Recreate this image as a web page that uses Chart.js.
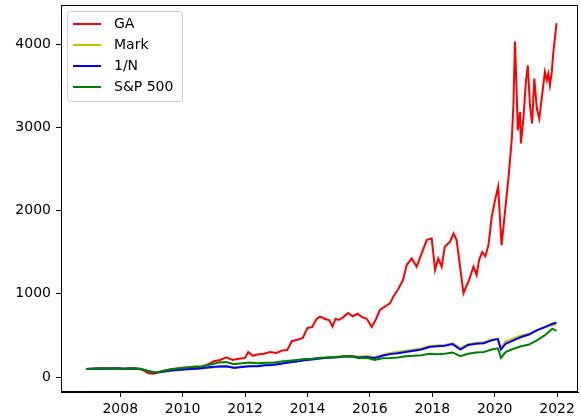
<!DOCTYPE html>
<html>
<head>
<meta charset="utf-8">
<script src="https://cdn.jsdelivr.net/npm/chart.js@4.4.1/dist/chart.umd.min.js"></script>
<style>
  body { margin: 0; background: #fff; }
  canvas { display: block; }
</style>
</head>
<body>
<canvas id="perfChart" width="581" height="416"></canvas>
<script>
// series labels and colours
const seriesNames = ['GA', 'Mark', '1/N', 'S&P 500'];
const seriesColors = ['#ff0000', '#bfbf00', '#0000ff', '#008000'];

// GA portfolio (denser, it moves a lot)
const gaDates = [
    2006.90, 2007.10, 2007.30, 2007.50, 2007.70, 2007.90, 2008.10, 2008.30, 2008.50, 2008.70,
    2008.90, 2009.05, 2009.20, 2009.40, 2009.60, 2009.80, 2010.00, 2010.20, 2010.40, 2010.60,
    2010.80, 2011.00, 2011.20, 2011.40, 2011.60, 2011.80, 2012.00, 2012.10, 2012.25, 2012.40,
    2012.60, 2012.80, 2013.00, 2013.20, 2013.35, 2013.50, 2013.70, 2013.85, 2014.00, 2014.15,
    2014.30, 2014.40, 2014.55, 2014.70, 2014.80, 2014.90, 2015.00, 2015.15, 2015.30, 2015.45,
    2015.60, 2015.75, 2015.90, 2016.06, 2016.20, 2016.32, 2016.50, 2016.65, 2016.75, 2016.90,
    2017.06, 2017.18, 2017.34, 2017.50, 2017.66, 2017.82, 2017.98, 2018.09, 2018.19, 2018.30,
    2018.40, 2018.57, 2018.68, 2018.78, 2018.89, 2019.00, 2019.08, 2019.16, 2019.32, 2019.42,
    2019.50, 2019.60, 2019.70, 2019.80, 2019.90, 2020.00, 2020.11, 2020.22, 2020.33, 2020.44,
    2020.55, 2020.60, 2020.65, 2020.70, 2020.74, 2020.81, 2020.84, 2020.92, 2021.00, 2021.06,
    2021.13, 2021.20, 2021.27, 2021.35, 2021.43, 2021.52, 2021.61, 2021.67, 2021.72, 2021.77,
    2021.83, 2021.88, 2021.93, 2021.98
];
const gaValues = [
    95, 100, 105, 100, 108, 100, 95, 105, 98, 90,
    45, 38, 55, 75, 90, 100, 110, 118, 105, 125,
    150, 190, 205, 236, 205, 220, 230, 300, 255, 270,
    280, 300, 290, 320, 325, 430, 450, 470, 590, 600,
    700, 725, 700, 680, 605, 700, 685, 720, 770, 730,
    760, 720, 700, 600, 700, 805, 850, 888, 965, 1050,
    1165, 1345, 1425, 1325, 1485, 1645, 1665, 1285, 1425, 1325,
    1565, 1625, 1725, 1645, 1325, 1005, 1080, 1145, 1325, 1225,
    1405, 1500, 1450, 1585, 1910, 2105, 2285, 1585, 1985, 2385,
    2870, 3265, 4030, 3470, 2965, 3185, 2805, 3105, 3545, 3745,
    3265, 3045, 3585, 3225, 3105, 3385, 3665, 3565, 3645, 3505,
    3665, 3905, 4070, 4250
];

// benchmarks share one date list
const dates = [
    2006.90, 2007.15, 2007.40, 2007.65, 2007.90, 2008.15, 2008.40, 2008.65, 2008.90, 2009.15,
    2009.40, 2009.65, 2009.90, 2010.15, 2010.40, 2010.65, 2010.90, 2011.15, 2011.40, 2011.65,
    2011.90, 2012.15, 2012.40, 2012.65, 2012.90, 2013.15, 2013.40, 2013.65, 2013.90, 2014.15,
    2014.40, 2014.65, 2014.90, 2015.15, 2015.40, 2015.65, 2015.90, 2016.15, 2016.40, 2016.65,
    2016.90, 2017.15, 2017.40, 2017.65, 2017.90, 2018.15, 2018.40, 2018.65, 2018.90, 2019.15,
    2019.40, 2019.65, 2019.90, 2020.10, 2020.20, 2020.35, 2020.60, 2020.85, 2021.10, 2021.35,
    2021.60, 2021.85, 2021.98
];
const markValues = [
    95, 100, 102, 100, 104, 98, 101, 95, 72, 55,
    62, 72, 80, 88, 95, 102, 112, 120, 126, 118,
    125, 133, 135, 143, 150, 163, 178, 190, 205, 215,
    225, 235, 242, 250, 255, 245, 250, 240, 265, 290,
    300, 315, 328, 342, 370, 378, 385, 405, 350, 395,
    410, 418, 450, 462, 350, 425, 465, 500, 520, 565,
    595, 625, 630
];
const equalValues = [
    95, 100, 102, 100, 104, 98, 102, 95, 70, 50,
    65, 80, 88, 95, 100, 108, 120, 125, 130, 108,
    120, 130, 128, 140, 145, 160, 175, 185, 200, 210,
    222, 230, 235, 245, 250, 235, 240, 225, 255, 275,
    285, 300, 315, 330, 360, 370, 375, 395, 330, 385,
    400, 405, 440, 455, 330, 400, 440, 480, 510, 560,
    600, 640, 655
];
const spValues = [
    95, 100, 105, 102, 106, 100, 104, 98, 70, 55,
    75, 95, 105, 115, 125, 130, 150, 175, 180, 155,
    165, 175, 165, 170, 172, 185, 195, 205, 215, 220,
    230, 235, 240, 245, 248, 225, 230, 205, 225, 228,
    235, 250, 255, 262, 280, 275, 280, 295, 250, 280,
    295, 300, 330, 345, 230, 300, 340, 370, 390, 440,
    500, 580, 555
];

const xTicks = [2008, 2010, 2012, 2014, 2016, 2018, 2020, 2022];
const yTicks = [0, 1000, 2000, 3000, 4000];

const FONT = 'DejaVu Sans';

function toPoints(xs, ys) {
    return xs.map((x, i) => ({ x: x, y: ys[i] }));
}

// matplotlib style box round the plot
const framePlugin = {
    id: 'frame',
    afterDraw(chart) {
        const a = chart.chartArea;
        const ctx = chart.ctx;
        ctx.save();
        ctx.strokeStyle = '#000';
        ctx.lineWidth = 1;
        ctx.strokeRect(Math.round(a.left) + 0.5, Math.round(a.top) + 0.5,
            Math.round(a.right - a.left) - 1, Math.round(a.bottom - a.top) - 1);
        ctx.restore();
    }
};

// legend drawn inside the axes, upper left
const insideLegend = {
    id: 'insideLegend',
    afterDraw(chart) {
        const ctx = chart.ctx;
        const a = chart.chartArea;
        const bx = a.left + 6, by = a.top + 6, bw = 115, bh = 90;
        ctx.save();
        ctx.beginPath();
        ctx.roundRect(bx + 0.5, by + 0.5, bw, bh, 3);
        ctx.fillStyle = 'rgba(255,255,255,0.8)';
        ctx.fill();
        ctx.strokeStyle = '#cccccc';
        ctx.lineWidth = 1;
        ctx.stroke();
        ctx.font = '14px ' + FONT;
        ctx.textBaseline = 'middle';
        chart.data.datasets.forEach((ds, i) => {
            const ly = by + 13 + i * 21;
            ctx.strokeStyle = ds.borderColor;
            ctx.lineWidth = 2;
            ctx.beginPath();
            ctx.moveTo(bx + 6, ly);
            ctx.lineTo(bx + 34, ly);
            ctx.stroke();
            ctx.fillStyle = '#000';
            ctx.fillText(ds.label, bx + 47, ly);
        });
        ctx.restore();
    }
};

const ctx = document.getElementById('perfChart').getContext('2d');

new Chart(ctx, {
    type: 'line',
    data: {
        datasets: [
            { label: seriesNames[0], data: toPoints(gaDates, gaValues), borderColor: seriesColors[0], order: 3 },
            { label: seriesNames[1], data: toPoints(dates, markValues), borderColor: seriesColors[1], order: 2 },
            { label: seriesNames[2], data: toPoints(dates, equalValues), borderColor: seriesColors[2], order: 1 },
            { label: seriesNames[3], data: toPoints(dates, spValues), borderColor: seriesColors[3], order: 0 }
        ]
    },
    options: {
        responsive: false,
        animation: false,
        devicePixelRatio: 1,
        layout: { padding: { top: 5, right: 3, left: 0, bottom: 0 } },
        elements: {
            point: { radius: 0 },
            line: { borderWidth: 2, tension: 0, fill: false }
        },
        plugins: {
            legend: { display: false },
            tooltip: { enabled: false }
        },
        scales: {
            x: {
                type: 'linear',
                min: 2006.1,
                max: 2022.67,
                afterBuildTicks: (scale) => { scale.ticks = xTicks.map(v => ({ value: v })); },
                afterFit: (scale) => {
                    scale.height = 24;
                    scale.paddingLeft = 0;
                    scale.paddingRight = 0;
                },
                grid: { drawOnChartArea: false, drawTicks: true, tickLength: 5, tickColor: '#000' },
                border: { color: '#000', width: 1 },
                ticks: {
                    color: '#000',
                    padding: 4,
                    maxRotation: 0,
                    font: { family: FONT, size: 14 },
                    callback: (v) => String(v)
                }
            },
            y: {
                min: -180,
                max: 4469,
                afterBuildTicks: (scale) => { scale.ticks = yTicks.map(v => ({ value: v })); },
                afterFit: (scale) => {
                    scale.width = 61;
                    scale.paddingTop = 0;
                    scale.paddingBottom = 0;
                },
                grid: { drawOnChartArea: false, drawTicks: true, tickLength: 5, tickColor: '#000' },
                border: { color: '#000', width: 1 },
                ticks: {
                    color: '#000',
                    padding: 5,
                    font: { family: FONT, size: 14 },
                    callback: (v) => String(v)
                }
            }
        }
    },
    plugins: [framePlugin, insideLegend]
});
</script>
</body>
</html>
